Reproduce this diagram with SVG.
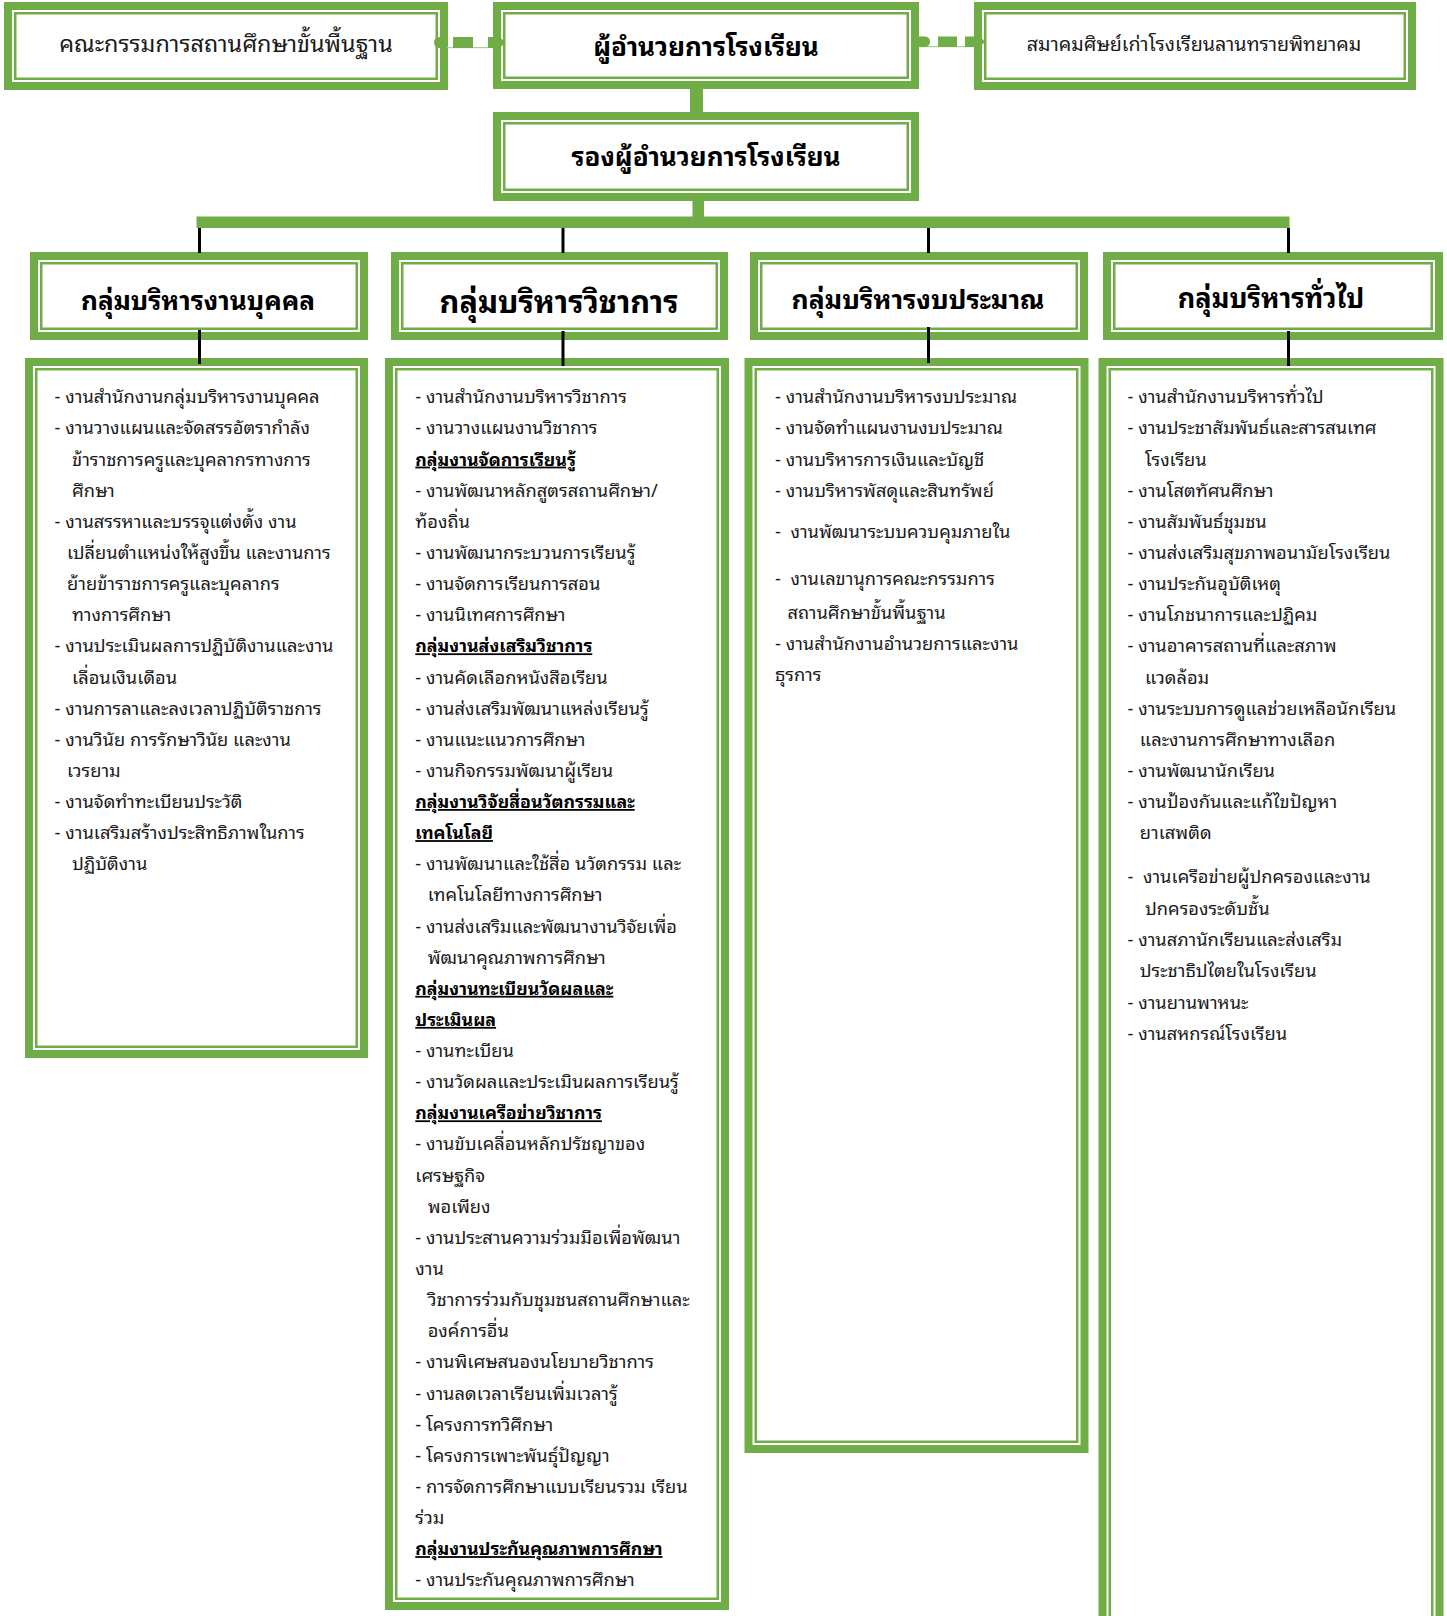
<svg xmlns="http://www.w3.org/2000/svg" width="1447" height="1616" viewBox="0 0 1447 1616">
<style>
.bg{fill:#ffffff}
.ob{fill:none;stroke:#70AD47;stroke-width:8}
.ib{fill:none;stroke:#70AD47;stroke-width:2.5}
.gc{fill:#70AD47}
.gl{fill:#A9D18E}
.bk{stroke:#000000;stroke-width:3;fill:none}
text{font-family:"Noto Sans Thai Looped",Loma,Garuda,Waree,"Tlwg Typo","Noto Sans Thai","Noto Sans Thai UI",Tahoma,"Noto Sans",sans-serif;fill:#1a1a1a}
.t{font-size:18.3px}
.top{font-size:23.4px;text-anchor:middle}
.topb{font-size:26px;font-weight:bold;text-anchor:middle;fill:#000}
.hd{font-size:27px;font-weight:bold;text-anchor:middle;fill:#000}
.u{font-weight:bold;text-decoration:underline;fill:#000;font-size:17.8px}
</style>
<rect x="0" y="0" width="1447" height="1616" fill="#ffffff"/>

<g id="node-committee">
<rect class="bg" x="4" y="2" width="444" height="88"/>
<rect class="ob" x="8" y="6" width="436" height="80"/>
<rect class="ib" x="15.25" y="13.25" width="421.5" height="65.5"/>
<text class="top" x="226" y="52">คณะกรรมการสถานศึกษาขั้นพื้นฐาน</text>
</g>

<g id="node-director">
<rect class="bg" x="493" y="2" width="426" height="87"/>
<rect class="ob" x="497" y="6" width="418" height="79"/>
<rect class="ib" x="504.25" y="13.25" width="403.5" height="64.5"/>
<text class="topb" x="706" y="56">ผู้อำนวยการโรงเรียน</text>
</g>

<g id="node-alumni">
<rect class="bg" x="974" y="2" width="442" height="88"/>
<rect class="ob" x="978" y="6" width="434" height="80"/>
<rect class="ib" x="985.25" y="13.25" width="419.5" height="65.5"/>
<text class="top" x="1194" y="51" style="font-size:19.7px">สมาคมศิษย์เก่าโรงเรียนลานทรายพิทยาคม</text>
</g>

<g id="node-deputy">
<rect class="bg" x="493" y="112" width="426" height="89"/>
<rect class="ob" x="497" y="116" width="418" height="81"/>
<rect class="ib" x="504.25" y="123.25" width="403.5" height="66.5"/>
<text class="topb" x="706" y="166">รองผู้อำนวยการโรงเรียน</text>
</g>

<g id="node-personnel">
<rect class="bg" x="30" y="252" width="338" height="88"/>
<rect class="ob" x="34" y="256" width="330" height="80"/>
<rect class="ib" x="41.25" y="263.25" width="315.5" height="65.5"/>
<text class="hd" x="198" y="310" style="font-size:26.1px">กลุ่มบริหารงานบุคคล</text>
</g>

<g id="node-academic">
<rect class="bg" x="391" y="252" width="337" height="88"/>
<rect class="ob" x="395" y="256" width="329" height="80"/>
<rect class="ib" x="402.25" y="263.25" width="314.5" height="65.5"/>
<text class="hd" x="559" y="313" style="font-size:30.6px">กลุ่มบริหารวิชาการ</text>
</g>

<g id="node-budget">
<rect class="bg" x="750" y="252" width="338" height="88"/>
<rect class="ob" x="754" y="256" width="330" height="80"/>
<rect class="ib" x="761.25" y="263.25" width="315.5" height="65.5"/>
<text class="hd" x="918" y="309" style="font-size:26.5px">กลุ่มบริหารงบประมาณ</text>
</g>

<g id="node-general">
<rect class="bg" x="1103" y="252" width="340" height="88"/>
<rect class="ob" x="1107" y="256" width="332" height="80"/>
<rect class="ib" x="1114.25" y="263.25" width="317.5" height="65.5"/>
<text class="hd" x="1271" y="308">กลุ่มบริหารทั่วไป</text>
</g>

<g id="node-personnel-tasks">
<rect class="bg" x="25" y="358" width="343" height="700"/>
<rect class="ob" x="29" y="362" width="335" height="692"/>
<rect class="ib" x="36.25" y="369.25" width="320.5" height="677.5"/>
<g class="t">
<text x="54.6" y="403.3">- งานสำนักงานกลุ่มบริหารงานบุคคล</text>
<text x="54.6" y="434.4">- งานวางแผนและจัดสรรอัตรากำลัง</text>
<text x="72" y="465.6">ข้าราชการครูและบุคลากรทางการ</text>
<text x="72" y="496.7">ศึกษา</text>
<text x="54.6" y="527.8">- งานสรรหาและบรรจุแต่งตั้ง งาน</text>
<text x="67" y="559">เปลี่ยนตำแหน่งให้สูงขึ้น และงานการ</text>
<text x="67" y="590.1">ย้ายข้าราชการครูและบุคลากร</text>
<text x="72" y="621.2">ทางการศึกษา</text>
<text x="54.6" y="652.3">- งานประเมินผลการปฏิบัติงานและงาน</text>
<text x="72" y="683.5">เลื่อนเงินเดือน</text>
<text x="54.6" y="714.6">- งานการลาและลงเวลาปฏิบัติราชการ</text>
<text x="54.6" y="745.7">- งานวินัย การรักษาวินัย และงาน</text>
<text x="67" y="776.9">เวรยาม</text>
<text x="54.6" y="808">- งานจัดทำทะเบียนประวัติ</text>
<text x="54.6" y="839.1">- งานเสริมสร้างประสิทธิภาพในการ</text>
<text x="72" y="870.3">ปฏิบัติงาน</text>
</g>
</g>

<g id="node-academic-tasks">
<rect class="bg" x="385" y="358" width="344" height="1252"/>
<rect class="ob" x="389" y="362" width="336" height="1244"/>
<rect class="ib" x="396.25" y="369.25" width="321.5" height="1229.5"/>
<g class="t">
<text x="415.3" y="403.3">- งานสำนักงานบริหารวิชาการ</text>
<text x="415.3" y="434.4">- งานวางแผนงานวิชาการ</text>
<text class="u" x="415.3" y="465.6">กลุ่มงานจัดการเรียนรู้</text>
<text x="415.3" y="496.7">- งานพัฒนาหลักสูตรสถานศึกษา/</text>
<text x="415.3" y="527.8">ท้องถิ่น</text>
<text x="415.3" y="559">- งานพัฒนากระบวนการเรียนรู้</text>
<text x="415.3" y="590.1">- งานจัดการเรียนการสอน</text>
<text x="415.3" y="621.2">- งานนิเทศการศึกษา</text>
<text class="u" x="415.3" y="652.3">กลุ่มงานส่งเสริมวิชาการ</text>
<text x="415.3" y="683.5">- งานคัดเลือกหนังสือเรียน</text>
<text x="415.3" y="714.6">- งานส่งเสริมพัฒนาแหล่งเรียนรู้</text>
<text x="415.3" y="745.7">- งานแนะแนวการศึกษา</text>
<text x="415.3" y="776.9">- งานกิจกรรมพัฒนาผู้เรียน</text>
<text class="u" x="415.3" y="808">กลุ่มงานวิจัยสื่อนวัตกรรมและ</text>
<text class="u" x="415.3" y="839.1">เทคโนโลยี</text>
<text x="415.3" y="870.3">- งานพัฒนาและใช้สื่อ นวัตกรรม และ</text>
<text x="427.7" y="901.4">เทคโนโลยีทางการศึกษา</text>
<text x="415.3" y="932.5">- งานส่งเสริมและพัฒนางานวิจัยเพื่อ</text>
<text x="427.7" y="963.6">พัฒนาคุณภาพการศึกษา</text>
<text class="u" x="415.3" y="994.8">กลุ่มงานทะเบียนวัดผลและ</text>
<text class="u" x="415.3" y="1025.9">ประเมินผล</text>
<text x="415.3" y="1057">- งานทะเบียน</text>
<text x="415.3" y="1088.2">- งานวัดผลและประเมินผลการเรียนรู้</text>
<text class="u" x="415.3" y="1119.3">กลุ่มงานเครือข่ายวิชาการ</text>
<text x="415.3" y="1150.4">- งานขับเคลื่อนหลักปรัชญาของ</text>
<text x="415.3" y="1181.6">เศรษฐกิจ</text>
<text x="427.7" y="1212.7">พอเพียง</text>
<text x="415.3" y="1243.8">- งานประสานความร่วมมือเพื่อพัฒนา</text>
<text x="415.3" y="1274.9">งาน</text>
<text x="427.7" y="1306.1">วิชาการร่วมกับชุมชนสถานศึกษาและ</text>
<text x="427.7" y="1337.2">องค์การอื่น</text>
<text x="415.3" y="1368.3">- งานพิเศษสนองนโยบายวิชาการ</text>
<text x="415.3" y="1399.5">- งานลดเวลาเรียนเพิ่มเวลารู้</text>
<text x="415.3" y="1430.6">- โครงการทวิศึกษา</text>
<text x="415.3" y="1461.7">- โครงการเพาะพันธุ์ปัญญา</text>
<text x="415.3" y="1492.9">- การจัดการศึกษาแบบเรียนรวม เรียน</text>
<text x="415.3" y="1524">ร่วม</text>
<text class="u" x="415.3" y="1555.1">กลุ่มงานประกันคุณภาพการศึกษา</text>
<text x="415.3" y="1586.2">- งานประกันคุณภาพการศึกษา</text>
</g>
</g>

<g id="node-budget-tasks">
<rect class="bg" x="744.5" y="358" width="344" height="1095"/>
<rect class="ob" x="748.5" y="362" width="336" height="1087"/>
<rect class="ib" x="755.75" y="369.25" width="321.5" height="1072.5"/>
<g class="t">
<text x="775" y="403.3">- งานสำนักงานบริหารงบประมาณ</text>
<text x="775" y="434.4">- งานจัดทำแผนงานงบประมาณ</text>
<text x="775" y="465.6">- งานบริหารการเงินและบัญชี</text>
<text x="775" y="496.7">- งานบริหารพัสดุและสินทรัพย์</text>
<text x="775" y="538.3" xml:space="preserve">-  งานพัฒนาระบบควบคุมภายใน</text>
<text x="775" y="584.7" xml:space="preserve">-  งานเลขานุการคณะกรรมการ</text>
<text x="787.4" y="618.7">สถานศึกษาขั้นพื้นฐาน</text>
<text x="775" y="649.6">- งานสำนักงานอำนวยการและงาน</text>
<text x="775" y="680.5">ธุรการ</text>
</g>
</g>

<g id="node-general-tasks">
<rect class="bg" x="1098.5" y="358" width="345" height="1300"/>
<rect class="ob" x="1102.5" y="362" width="337" height="1292"/>
<rect class="ib" x="1109.75" y="369.25" width="322.5" height="1277.5"/>
<g class="t">
<text x="1127.5" y="403.3">- งานสำนักงานบริหารทั่วไป</text>
<text x="1127.5" y="434.4">- งานประชาสัมพันธ์และสารสนเทศ</text>
<text x="1145" y="465.6">โรงเรียน</text>
<text x="1127.5" y="496.7">- งานโสตทัศนศึกษา</text>
<text x="1127.5" y="527.8">- งานสัมพันธ์ชุมชน</text>
<text x="1127.5" y="559">- งานส่งเสริมสุขภาพอนามัยโรงเรียน</text>
<text x="1127.5" y="590.1">- งานประกันอุบัติเหตุ</text>
<text x="1127.5" y="621.2">- งานโภชนาการและปฏิคม</text>
<text x="1127.5" y="652.3">- งานอาคารสถานที่และสภาพ</text>
<text x="1145" y="683.5">แวดล้อม</text>
<text x="1127.5" y="714.6">- งานระบบการดูแลช่วยเหลือนักเรียน</text>
<text x="1139.8" y="745.7">และงานการศึกษาทางเลือก</text>
<text x="1127.5" y="776.9">- งานพัฒนานักเรียน</text>
<text x="1127.5" y="808">- งานป้องกันและแก้ไขปัญหา</text>
<text x="1139.8" y="839.1">ยาเสพติด</text>
<text x="1127.5" y="882.5" xml:space="preserve">-  งานเครือข่ายผู้ปกครองและงาน</text>
<text x="1145" y="914.5">ปกครองระดับชั้น</text>
<text x="1127.5" y="946.4">- งานสภานักเรียนและส่งเสริม</text>
<text x="1139.8" y="977.3">ประชาธิปไตยในโรงเรียน</text>
<text x="1127.5" y="1009.3">- งานยานพาหนะ</text>
<text x="1127.5" y="1040.2">- งานสหกรณ์โรงเรียน</text>
</g>
</g>

<g id="connectors">
<rect class="gl" x="447" y="47" width="42" height="1.2"/>
<rect class="gc" x="434" y="37" width="14" height="11" rx="5.5"/>
<rect class="gc" x="453" y="37" width="20" height="11"/>
<polygon class="gc" points="488,37 500,37 505,42.5 500,48 488,48"/>
<rect class="gl" x="919" y="46" width="50" height="1.2"/>
<rect class="gc" x="912" y="36.5" width="18" height="10.5" rx="5"/>
<rect class="gc" x="938" y="36.5" width="19" height="10.5"/>
<polygon class="gc" points="965,36.5 980,36.5 985,41.75 980,47 965,47"/>
<rect class="gc" x="690" y="89" width="13" height="23"/>
<rect class="gc" x="692.5" y="200" width="11.5" height="17"/>
<rect class="gc" x="196.5" y="216.5" width="1093" height="11.5"/>
<line class="bk" x1="199.5" y1="228" x2="199.5" y2="253"/>
<line class="bk" x1="563" y1="228" x2="563" y2="253"/>
<line class="bk" x1="928.5" y1="228" x2="928.5" y2="253"/>
<line class="bk" x1="1288.5" y1="228" x2="1288.5" y2="253"/>
<line class="bk" x1="199.5" y1="330" x2="199.5" y2="364"/>
<line class="bk" x1="563" y1="331" x2="563" y2="366"/>
<line class="bk" x1="928.5" y1="327" x2="928.5" y2="363"/>
<line class="bk" x1="1288.5" y1="331" x2="1288.5" y2="366"/>
</g>
</svg>
